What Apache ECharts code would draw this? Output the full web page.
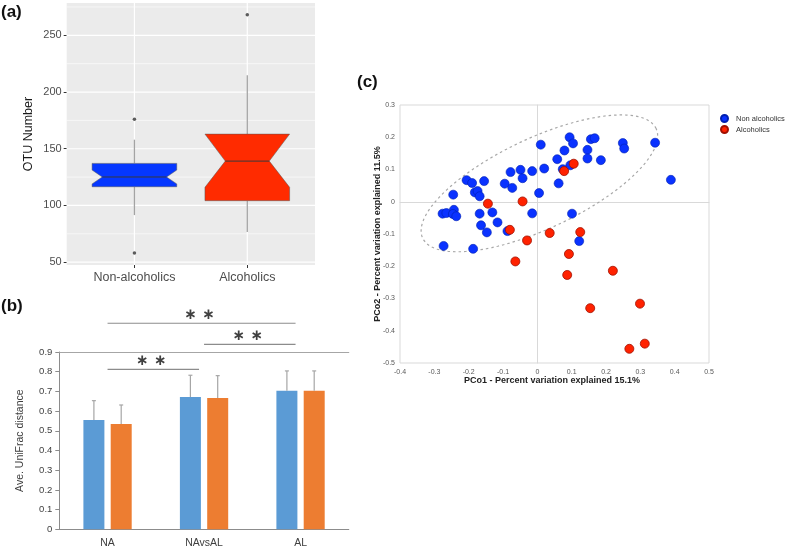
<!DOCTYPE html>
<html><head><meta charset="utf-8">
<script src="https://cdn.jsdelivr.net/npm/echarts@6/dist/echarts.min.js"></script>
<style>html,body{margin:0;padding:0;background:#fff}#c{width:787px;height:551px}</style>
</head><body><div id="c"></div>
<script>
// ---------- Panel (a): notched box plot ----------
const groupsA = ['Non-alcoholics', 'Alcoholics'];
const whiskerLow = [91.5, 76.5];
const q1 = [116.5, 104.2];
const notchLow = [119, 116];
const median = [125.1, 139.1];
const notchHigh = [131.2, 162.9];
const q3 = [137.1, 162.9];
const whiskerHigh = [158, 214.8];
const outlierGroup = [1, 1, 2];
const outlierValue = [176, 58, 268.2];
const yTicksA = [50, 100, 150, 200, 250];
const yMinorA = [75, 125, 175, 225, 275];

// ---------- Panel (b): bar chart ----------
const catsB = ['NA', 'NAvsAL', 'AL'];
const blueMean = [0.555, 0.671, 0.703];
const blueSD = [0.098, 0.111, 0.101];
const orangeMean = [0.535, 0.667, 0.703];
const orangeSD = [0.096, 0.113, 0.101];
const sigFrom = ['NA', 'NAvsAL', 'NA'];
const sigTo = ['AL', 'AL', 'NAvsAL'];
const sigHeight = [1.046, 0.939, 0.812];
const sigLabel = ['\u2217 \u2217', '\u2217 \u2217', '\u2217 \u2217'];

// ---------- Panel (c): PCoA ----------
const nonAlcoholics = [
  [0.010,0.177],[0.058,0.132],[0.020,0.103],[-0.049,0.099],[-0.015,0.095],[-0.078,0.092],
  [-0.043,0.073],[-0.095,0.056],[-0.073,0.043],[0.062,0.057],[0.005,0.027],[-0.206,0.067],
  [-0.190,0.058],[-0.155,0.064],[-0.182,0.029],[-0.174,0.033],[-0.168,0.017],[-0.245,0.022],
  [-0.243,-0.025],[-0.276,-0.037],[-0.265,-0.035],[-0.246,-0.038],[-0.236,-0.045],[-0.168,-0.037],
  [-0.131,-0.033],[-0.164,-0.073],[-0.116,-0.064],[-0.147,-0.095],[-0.087,-0.091],[-0.015,-0.036],
  [-0.273,-0.137],[-0.187,-0.146],[0.094,0.200],[0.104,0.181],[0.079,0.159],[0.156,0.194],
  [0.167,0.197],[0.146,0.161],[0.146,0.134],[0.185,0.129],[0.249,0.182],[0.253,0.165],
  [0.343,0.183],[0.389,0.068],[0.074,0.101],[0.096,0.113],[0.101,-0.037],[0.122,-0.122]
];
const alcoholics = [
  [-0.144,-0.006],[-0.043,0.001],[-0.080,-0.087],[-0.030,-0.120],[0.036,-0.097],[-0.064,-0.185],
  [0.106,0.118],[0.078,0.095],[0.125,-0.094],[0.092,-0.162],[0.087,-0.227],[0.220,-0.214],
  [0.154,-0.330],[0.299,-0.316],[0.268,-0.456],[0.313,-0.440]
];
const ellipseCenter = [0.006, 0.057];
const ellipseAxis1 = [0.340, 0.170];
const ellipseAxis2 = [-0.056, 0.127];

// ---------- build ----------
const FONT = 'Liberation Sans, Arial, sans-serif';
const boxColors = ['#0537ff', '#ff2b00'];
const notchRatio = [0.76, 0.52];
const BAR_W = 21, BAR_GAP = 0.3;
const barOffset = BAR_W * (1 + BAR_GAP) / 2;

const ellipsePts = [];
for (let k = 0; k <= 120; k++) {
  const t = 2 * Math.PI * k / 120;
  ellipsePts.push([
    ellipseCenter[0] + Math.cos(t) * ellipseAxis1[0] + Math.sin(t) * ellipseAxis2[0],
    ellipseCenter[1] + Math.cos(t) * ellipseAxis1[1] + Math.sin(t) * ellipseAxis2[1]
  ]);
}

function hLine(color, width) {
  return function (params, api) {
    const cs = params.coordSys;
    const y = api.coord([1, api.value(1)])[1];
    return { type: 'line', shape: { x1: cs.x, y1: y, x2: cs.x + cs.width, y2: y },
      style: { stroke: color, lineWidth: width }, silent: true };
  };
}
function vLine(params, api) {
  const cs = params.coordSys;
  const x = api.coord([api.value(0), 100])[0];
  return { type: 'line', shape: { x1: x, y1: cs.y, x2: x, y2: cs.y + cs.height },
    style: { stroke: '#ffffff', lineWidth: 1.2 }, silent: true };
}

function renderBox(params, api) {
  const i = params.dataIndex;
  const x = api.value(0);
  const hw = 0.375, nw = hw * notchRatio[i];
  const X = v => api.coord([v, 100])[0];
  const Y = v => api.coord([x, v])[1];
  const L = X(x - hw), R = X(x + hw), nL = X(x - nw), nR = X(x + nw), cx = X(x);
  const yLow = Y(api.value(1)), yQ1 = Y(api.value(2)), yNL = Y(api.value(3)), yMed = Y(api.value(4)),
        yNH = Y(api.value(5)), yQ3 = Y(api.value(6)), yHigh = Y(api.value(7));
  const pts = [[L, yQ3], [R, yQ3], [R, yNH], [nR, yMed], [R, yNL], [R, yQ1], [L, yQ1], [L, yNL], [nL, yMed], [L, yNH]];
  return { type: 'group', children: [
    { type: 'line', shape: { x1: cx, y1: yHigh, x2: cx, y2: yQ3 }, style: { stroke: '#a3a3a3', lineWidth: 1.3 } },
    { type: 'line', shape: { x1: cx, y1: yQ1, x2: cx, y2: yLow }, style: { stroke: '#a3a3a3', lineWidth: 1.3 } },
    { type: 'polygon', shape: { points: pts }, style: { fill: boxColors[i], stroke: '#555', lineWidth: 0.5 } },
    { type: 'line', shape: { x1: nL, y1: yMed, x2: nR, y2: yMed }, style: { stroke: '#3a3a3a', lineWidth: 1 } }
  ]};
}

function errRender(offset) {
  return function (params, api) {
    const c = api.coord([api.value(0), api.value(1)]);
    const top = api.coord([api.value(0), api.value(2)])[1];
    const x = c[0] + offset;
    return { type: 'group', children: [
      { type: 'line', shape: { x1: x, y1: c[1], x2: x, y2: top }, style: { stroke: '#a6a6a6', lineWidth: 1.2 } },
      { type: 'line', shape: { x1: x - 2, y1: top, x2: x + 2, y2: top }, style: { stroke: '#a6a6a6', lineWidth: 1.2 } }
    ]};
  };
}

function renderSig(params, api) {
  const i = params.dataIndex;
  const h = api.value(2);
  const x1 = api.coord([api.value(0), h])[0];
  const x2 = api.coord([api.value(1), h])[0] - 5;
  const y = api.coord([api.value(0), h])[1];
  return { type: 'group', children: [
    { type: 'line', shape: { x1: x1, y1: y, x2: x2, y2: y }, style: { stroke: '#8c8c8c', lineWidth: 1.2 } },
    { type: 'text', style: { text: sigLabel[i], x: (x1 + x2) / 2 - 2, y: y - 8, align: 'center', verticalAlign: 'middle',
      font: 'bold 15px DejaVu Sans', fill: '#404040' } }
  ]};
}

const chart = echarts.init(document.getElementById('c'), null, { renderer: 'canvas' });
const option = {
  animation: false,
  backgroundColor: '#ffffff',
  textStyle: { fontFamily: FONT },
  grid: [
    { left: 66.7, top: 3, width: 248.3, height: 262, show: true, backgroundColor: '#ebebeb', borderWidth: 0, outerBoundsMode: 'none' },
    { left: 59.3, top: 352, width: 289.5, height: 177.3, outerBoundsMode: 'none' },
    { left: 400, top: 105, width: 309, height: 258, show: true, borderColor: '#d9d9d9', borderWidth: 1, backgroundColor: 'transparent', outerBoundsMode: 'none' }
  ],
  xAxis: [
    { gridIndex: 0, type: 'value', min: 0.4, max: 2.6, axisLine: { show: false }, splitLine: { show: false },
      axisTick: { show: true, customValues: [1, 2], length: 3, lineStyle: { color: '#333' } },
      axisLabel: { customValues: [1, 2], formatter: v => groupsA[Math.round(v) - 1] || '', color: '#4d4d4d', fontSize: 12.5, margin: 6 } },
    { gridIndex: 1, type: 'category', data: catsB, axisLine: { lineStyle: { color: '#8c8c8c' } }, axisTick: { show: false },
      axisLabel: { color: '#404040', fontSize: 10.5, margin: 8 } },
    { gridIndex: 1, type: 'category', position: 'top', data: catsB, axisLine: { show: true, onZero: false, lineStyle: { color: '#a6a6a6' } },
      axisTick: { show: false }, axisLabel: { show: false } },
    { gridIndex: 2, type: 'value', min: -0.4, max: 0.5, interval: 0.1, axisLine: { onZero: true, lineStyle: { color: '#d9d9d9' } },
      axisTick: { show: false }, splitLine: { show: false }, axisLabel: { fontSize: 7, color: '#595959', margin: 6 } }
  ],
  yAxis: [
    { gridIndex: 0, type: 'value', min: 47.5, max: 278.5, axisLine: { show: false }, splitLine: { show: false },
      axisTick: { show: true, customValues: yTicksA, length: 3, lineStyle: { color: '#333' } },
      axisLabel: { customValues: yTicksA, color: '#4d4d4d', fontSize: 11, margin: 5 },
      name: 'OTU Number', nameLocation: 'middle', nameGap: 32, nameTextStyle: { fontSize: 12.5, color: '#1a1a1a' } },
    { gridIndex: 1, type: 'value', min: 0, max: 0.9, interval: 0.1, axisLine: { show: true, lineStyle: { color: '#8c8c8c' } },
      axisTick: { show: true, length: 4, lineStyle: { color: '#8c8c8c' } }, splitLine: { show: false },
      axisLabel: { fontSize: 9.5, color: '#404040', margin: 7 },
      name: 'Ave. UniFrac distance', nameLocation: 'middle', nameGap: 34, nameTextStyle: { fontSize: 10.5, color: '#404040' } },
    { gridIndex: 2, type: 'value', min: -0.5, max: 0.3, interval: 0.1, axisLine: { onZero: true, lineStyle: { color: '#d9d9d9' } },
      axisTick: { show: false }, splitLine: { show: false }, axisLabel: { fontSize: 7, color: '#595959', margin: 5 } }
  ],
  legend: {
    data: ['Non alcoholics', 'Alcoholics'], orient: 'vertical', left: 715, top: 109, itemWidth: 7, itemHeight: 7, itemGap: 2,
    icon: 'circle', textStyle: { fontSize: 7.5, color: '#333', padding: [0, 0, 0, 3] }
  },
  graphic: [
    { type: 'text', left: 1, top: 4, style: { text: '(a)', font: 'bold 17px Liberation Sans', fill: '#111' } },
    { type: 'text', left: 1, top: 298, style: { text: '(b)', font: 'bold 17px Liberation Sans', fill: '#111' } },
    { type: 'text', left: 357, top: 74, style: { text: '(c)', font: 'bold 17px Liberation Sans', fill: '#111' } },
    { type: 'text', x: 552, y: 381, style: { text: 'PCo1 - Percent variation explained 15.1%', font: 'bold 9px Liberation Sans', fill: '#222', align: 'center', verticalAlign: 'middle' } },
    { type: 'text', x: 378, y: 234, rotation: Math.PI / 2, style: { text: 'PCo2 - Percent variation explained 11.5%', font: 'bold 9px Liberation Sans', fill: '#222', align: 'center', verticalAlign: 'middle' } }
  ],
  series: [
    { type: 'custom', xAxisIndex: 0, yAxisIndex: 0, z: 1, silent: true, renderItem: hLine('#ffffff', 0.6),
      data: yMinorA.map(v => [1, v]) },
    { type: 'custom', xAxisIndex: 0, yAxisIndex: 0, z: 1, silent: true, renderItem: hLine('#ffffff', 1.2),
      data: yTicksA.map(v => [1, v]) },
    { type: 'custom', xAxisIndex: 0, yAxisIndex: 0, z: 1, silent: true, renderItem: vLine,
      data: groupsA.map((g, i) => [i + 1, 100]) },
    { type: 'custom', xAxisIndex: 0, yAxisIndex: 0, z: 2, renderItem: renderBox,
      encode: { x: 0, y: [1, 2, 3, 4, 5, 6, 7] },
      data: groupsA.map((g, i) => [i + 1, whiskerLow[i], q1[i], notchLow[i], median[i], notchHigh[i], q3[i], whiskerHigh[i]]) },
    { type: 'scatter', xAxisIndex: 0, yAxisIndex: 0, z: 3, symbolSize: 3.5, itemStyle: { color: '#333' },
      data: outlierValue.map((v, i) => [outlierGroup[i], v]) },

    { name: 'blue', type: 'bar', xAxisIndex: 1, yAxisIndex: 1, barWidth: BAR_W, barGap: (BAR_GAP * 100) + '%',
      itemStyle: { color: '#5b9bd5' }, data: blueMean },
    { name: 'orange', type: 'bar', xAxisIndex: 1, yAxisIndex: 1, barWidth: BAR_W, barGap: (BAR_GAP * 100) + '%',
      itemStyle: { color: '#ed7d31' }, data: orangeMean },
    { type: 'custom', xAxisIndex: 1, yAxisIndex: 1, z: 3, renderItem: errRender(-barOffset), encode: { x: 0, y: [1, 2] },
      data: blueMean.map((m, i) => [i, m, m + blueSD[i]]) },
    { type: 'custom', xAxisIndex: 1, yAxisIndex: 1, z: 3, renderItem: errRender(barOffset), encode: { x: 0, y: [1, 2] },
      data: orangeMean.map((m, i) => [i, m, m + orangeSD[i]]) },
    { type: 'custom', xAxisIndex: 1, yAxisIndex: 1, z: 3, clip: false, renderItem: renderSig, encode: { x: [0, 1], y: 2 },
      data: sigFrom.map((f, i) => [catsB.indexOf(f), catsB.indexOf(sigTo[i]), sigHeight[i]]) },

    { type: 'line', xAxisIndex: 3, yAxisIndex: 2, data: ellipsePts, symbol: 'none', silent: true, z: 1,
      lineStyle: { color: '#a8a8a8', width: 1.2, type: [2.5, 3] } },
    { name: 'Non alcoholics', type: 'scatter', xAxisIndex: 3, yAxisIndex: 2, symbolSize: 9, z: 2,
      itemStyle: { color: '#0a32ff', borderColor: '#0020b0', borderWidth: 0.6, opacity: 1 }, data: nonAlcoholics },
    { name: 'Alcoholics', type: 'scatter', xAxisIndex: 3, yAxisIndex: 2, symbolSize: 9, z: 3,
      itemStyle: { color: '#ff2200', borderColor: '#a01000', borderWidth: 0.8, opacity: 1 }, data: alcoholics }
  ]
};
chart.setOption(option);
</script>
</body></html>
